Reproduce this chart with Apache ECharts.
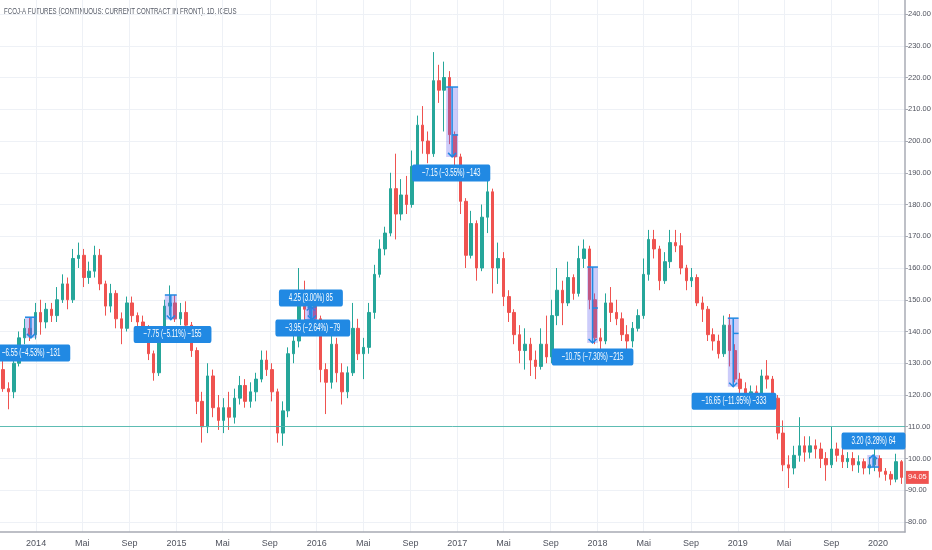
<!DOCTYPE html>
<html><head><meta charset="utf-8">
<script src="https://cdn.jsdelivr.net/npm/echarts@6/dist/echarts.min.js"></script>
<style>html,body{margin:0;padding:0;background:#fff}#c{width:932px;height:550px}</style>
</head><body><div id="c"></div>
<script>
// ---------------- data ----------------
const chartTitle = 'FCOJ-A FUTURES (CONTINUOUS: CURRENT CONTRACT IN FRONT), 1D, ICEUS';
// two-week bars, first bar starts on this date
const firstBarStart = '2013-09-30';
const barStepDays = 14;
const opens = [
128,122,121,130,138,141,139,146,143,147,
145,150,155,150,163,164,157,159,164,155,
148,152,144,141,149,145,143,141,133,127,
138,148,149,144,146,142,134,118,110,126,
116,112,116,113,119,123,118,121,125,131,
128,121,108,115,133,137,152,147,150,144,
128,124,136,127,121,127,141,133,135,146,
158,166,171,185,177,183,180,192,205,200,
196,219,216,220,202,195,181,164,174,160,
176,184,160,163,151,146,139,134,136,131,
129,136,132,145,153,149,157,152,163,166,
150,138,137,149,146,144,139,137,141,145,
158,169,166,156,162,168,167,160,156,157,
149,147,139,137,133,142,134,125,122,120,
121,119,126,125,119,108,98,97,101,104,
102,104,103,100,98,103,101,99,100,98,
99,97,98,100,96,95,93.5,99];
const closes = [
122,121,130,138,141,139,146,143,147,145,
150,155,150,163,164,157,159,164,155,148,
152,144,141,149,145,143,141,133,127,138,
148,149,144,146,142,134,118,110,126,116,
112,116,113,119,123,118,121,125,131,128,
121,108,115,133,137,152,147,150,144,128,
124,136,127,121,127,141,133,135,146,158,
166,171,185,177,183,180,192,205,200,196,
219,216,220,202,195,181,164,174,160,176,
184,160,163,151,146,139,134,136,131,129,
136,132,145,153,149,157,152,163,166,150,
138,137,149,146,144,139,137,141,145,158,
169,166,156,162,168,167,160,156,157,149,
147,139,137,133,142,134,125,122,120,121,
119,126,125,119,108,98,97,101,104,102,
104,103,100,98,103,101,99,100,98,99,
97,98,100,96,95,93.5,99,94.05];
const lows = [
121,115.5,119,129,136,137,137.5,139,141,143,
143,149,147,149,160,154,155,157,153,145,
146,141,136,140,143,140,139,131,124.5,126,
137,145,143,142,140,132,114,105,108,113,
109,108,109,111,117,116,116,118,124,126,
118,105,104,113,130,135,143,145,142,124,
114,122,124,117,119,126,131,125,133,144,
157,164,170,169,175,177,179,190,196,193,
195,212,203,199,192,177,160,163,156,159,
171,152,155,148,143,136,130,128,126,125,
128,130,130,142,142,148,150,151,160,147,
136,134.5,136,143,142,137,134.5,135,140,144,
156,163,153,155,160,165,158,153,154,148,
143,137,134,131.5,132,129,124,120,118,118,
117.5,118,122,118,106,96,90.7,95,99,99,
100,100,97,93,97,99,97,97,96,95.5,
95,95,96,94,93,91.6,92.5,92];
const highs = [
131,124,132,140,144,144.5,149,150,149,149,
154,158,157,166,168,166,162,167,166,156,
155,153,146,151,151,146,145,142,134,140,
150,154.5,151.5,149,149.5,143,135,121,130,128,
120,119,121,122,126,125,124,127,134,134,
130,122,118,135,140,160,156,153,151,145,
130,139,138,130,129,149,144,138,149,161,
169,173,190,196,188,189,197,208,211,203,
228,224,225,222,203,196,182,178,175,180,
188,185,168,165,153,147,142,141,138,134,
141,145,150,160,156,162,158,167,169,167,
152,141,152,154,150,146,142,143,147,163,
172,172,167,165,172,172,171,161,160,158,
151,148,141,139,145,145.5,136,127,124,123,
123,128,131,126,120,112,101,104,113,107,
107,106,105,102,110,105,103,102,102,101,
100,100.5,103,101,97,96,101.5,99.5];

const priceTicks = [80,90,100,110,120,130,140,150,160,170,180,190,200,210,220,230,240];
const dateTicks = ['2014-01-01','2014-05-01','2014-09-01','2015-01-01','2015-05-01','2015-09-01',
  '2016-01-01','2016-05-01','2016-09-01','2017-01-01','2017-05-01','2017-09-01',
  '2018-01-01','2018-05-01','2018-09-01','2019-01-01','2019-05-01','2019-09-01','2020-01-01'];
const monthLabels = {4: 'Mai', 8: 'Sep'};
const viewStart = '2013-09-29';
const viewEnd = '2020-03-11';
const horizontalLevel = 110;
const lastPrice = 94.05;

// measurement annotations (date & price range tools)
const annStart = ['2013-12-03','2014-12-02','2015-12-01','2015-12-08','2016-12-03','2017-12-05','2018-12-06','2019-12-04'];
const annEnd   = ['2014-01-03','2015-01-02','2016-01-01','2015-12-31','2017-01-03','2018-01-02','2019-01-03','2020-01-03'];
const annFrom  = [144.5, 151.5, 143.6, 147.7, 217.0, 160.3, 144.2, 97.3];
const annTo    = [138.0, 143.75, 147.85, 143.75, 195.0, 136.4, 122.6, 101.1];
const annMid   = [null, null, null, null, 201.9, 147.4, 139.4, null];
const annLabelDate  = ['2013-12-19','2014-12-22','2015-12-17','2015-12-22','2016-12-16','2017-12-19','2018-12-22','2019-12-20'];
const annLabelPrice = [133.2, 139.05, 150.55, 141.1, 189.9, 132.0, 118.0, 105.5];
const annText = ['\u22126.55 (\u22124.53%) \u2212131','\u22127.75 (\u22125.11%) \u2212155','4.25 (3.00%) 85',
  '\u22123.95 (\u22122.64%) \u221279','\u22127.15 (\u22123.55%) \u2212143','\u221210.75 (\u22127.30%) \u2212215',
  '\u221216.65 (\u221211.95%) \u2212333','3.20 (3.28%) 64'];

// ---------------- build ----------------
const DAY = 86400000;
function ts(s){ const p = s.split('-').map(Number); return Date.UTC(p[0], p[1]-1, p[2]); }
const t0 = ts(firstBarStart);
const candleData = opens.map((o, i) => [t0 + (i*barStepDays + barStepDays/2) * DAY, o, closes[i], lows[i], highs[i]]);
const annData = annStart.map((s, i) => [ts(s), ts(annEnd[i]), annFrom[i], annTo[i], ts(annLabelDate[i]), annLabelPrice[i]]);
const xTicks = dateTicks.map(ts);

const AXIS_FONT = '"Liberation Sans",sans-serif';
const BLUE = '#2189e3';

const chart = echarts.init(document.getElementById('c'));
chart.setOption({
  animation: false,
  backgroundColor: '#ffffff',
  grid: {left: 0, right: 27, top: 0, bottom: 18, containLabel: false, outerBoundsMode: 'none'},
  graphic: [{
    type: 'text', x: 4, y: 12, scaleX: 0.68,
    style: {text: chartTitle, fill: '#555a66', font: '9px "Liberation Sans", sans-serif', verticalAlign: 'middle'}
  }],
  xAxis: {
    type: 'value', min: ts(viewStart), max: ts(viewEnd), scale: true,
    axisLine: {show: true, lineStyle: {color: '#a8abb4', width: 1.5}},
    axisTick: {show: false, customValues: xTicks},
    axisLabel: {
      customValues: xTicks, color: '#50535e', fontSize: 9, fontFamily: AXIS_FONT, margin: 7,
      formatter: v => { const d = new Date(v); const m = d.getUTCMonth(); return m === 0 ? String(d.getUTCFullYear()) : monthLabels[m]; }
    },
    splitLine: {show: true, lineStyle: {color: '#eef1f6', width: 1}}
  },
  yAxis: {
    type: 'value', position: 'right', min: 76.85, max: 244.41, scale: true,
    axisLine: {show: true, lineStyle: {color: '#a8abb4', width: 1.5}},
    axisTick: {show: true, length: 3, customValues: priceTicks, lineStyle: {color: '#a8abb4'}},
    axisLabel: {customValues: priceTicks, formatter: v => v.toFixed(2), color: '#50535e', fontSize: 7.5, fontFamily: AXIS_FONT, margin: 3},
    splitLine: {show: true, lineStyle: {color: '#eef1f6', width: 1}}
  },
  series: [{
    type: 'candlestick',
    data: candleData,
    barWidth: 3,
    itemStyle: {color: '#26a69a', color0: '#ef5350', borderColor: '#26a69a', borderColor0: '#ef5350', borderWidth: 1},
    markLine: {
      silent: true, symbol: ['none', 'none'], animation: false,
      data: [
        {yAxis: horizontalLevel, lineStyle: {color: '#4db6ac', width: 1, type: 'solid', opacity: 0.9}, label: {show: false}},
        {yAxis: lastPrice, lineStyle: {color: 'rgba(0,0,0,0)', width: 0},
         label: {show: true, position: 'end', distance: 1, formatter: lastPrice.toFixed(2), color: '#fff',
                 backgroundColor: '#ef5350', padding: [3, 2, 2, 2], fontSize: 7.5, fontFamily: AXIS_FONT}}
      ]
    }
  }, {
    type: 'custom',
    data: annData,
    z: 5,
    silent: true,
    encode: {x: [0, 1, 4], y: [2, 3, 5]},
    renderItem: function (params, api) {
      const i = params.dataIndex;
      const a = api.coord([api.value(0), api.value(2)]);
      const b = api.coord([api.value(1), api.value(3)]);
      const lab = api.coord([api.value(4), api.value(5)]);
      const x0 = a[0], x1 = b[0], yF = a[1], yT = b[1];
      const cx = (x0 + x1) / 2;
      const top = Math.min(yF, yT), bot = Math.max(yF, yT);
      const dir = yT > yF ? 1 : -1;
      const kids = [
        {type: 'rect', shape: {x: x0, y: top, width: x1 - x0, height: bot - top}, style: {fill: 'rgba(100,100,240,0.33)'}},
        {type: 'line', shape: {x1: x0, y1: yF, x2: x1, y2: yF}, style: {stroke: BLUE, lineWidth: 1.5}},
        {type: 'line', shape: {x1: cx, y1: yF, x2: cx, y2: yT}, style: {stroke: BLUE, lineWidth: 1.5}},
        {type: 'polyline', shape: {points: [[cx - 4, yT - 4 * dir], [cx, yT], [cx + 4, yT - 4 * dir]]}, style: {stroke: BLUE, lineWidth: 1.5, fill: null}}
      ];
      if (annMid[i] != null) {
        const m = api.coord([api.value(0), annMid[i]]);
        kids.push({type: 'line', shape: {x1: cx, y1: m[1], x2: x1, y2: m[1]}, style: {stroke: BLUE, lineWidth: 1.5}});
      }
      kids.push({
        type: 'text', x: lab[0], y: lab[1], scaleX: 0.62,
        style: {text: annText[i], fill: '#ffffff', font: '10px "Liberation Sans", sans-serif', align: 'center', verticalAlign: 'middle',
                backgroundColor: BLUE, padding: [4, 16, 3, 16], borderRadius: 3}
      });
      return {type: 'group', children: kids};
    }
  }]
});
</script>
</body></html>
